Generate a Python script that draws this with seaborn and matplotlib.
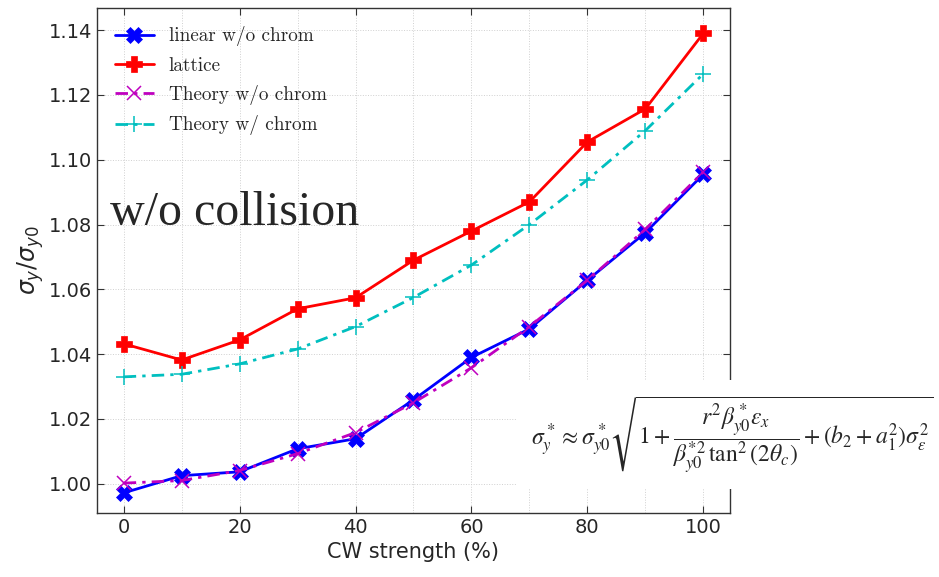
#!/usr/bin/env python3

import seaborn as sns
import matplotlib.pyplot as plt
import pandas as pd
from matplotlib.ticker import MultipleLocator

# CW strength (%)
cw_strength = [0, 10, 20, 30, 40, 50, 60, 70, 80, 90, 100]

# sigma_y / sigma_y0 per series
linear_wo_chrom = [0.9972, 1.0025, 1.0037, 1.0108, 1.0139, 1.0259, 1.0390, 1.0478, 1.0628, 1.0775, 1.0955]
lattice = [1.0432, 1.0382, 1.0444, 1.0540, 1.0574, 1.0690, 1.0780, 1.0870, 1.1055, 1.1157, 1.1390]
theory_wo_chrom = [1.0002, 1.0010, 1.0041, 1.0093, 1.0158, 1.0250, 1.0358, 1.0485, 1.0628, 1.0785, 1.0962]
theory_w_chrom = [1.0330, 1.0338, 1.0370, 1.0416, 1.0485, 1.0575, 1.0675, 1.0800, 1.0938, 1.1090, 1.1265]

series = [
    # label, values, color, marker, linestyle, markersize, mew
    ("linear w/o chrom", linear_wo_chrom, "#0000ff", "X", "-", 11, 0.5),
    ("lattice", lattice, "#ff0000", "P", "-", 11, 0.5),
    ("Theory w/o chrom", theory_wo_chrom, "#bf00bf", "x", "-.", 10, 1.1),
    ("Theory w/ chrom", theory_w_chrom, "#00bfbf", "+", "-.", 11, 1.1),
]

sns.set_style("ticks")
plt.rcParams['font.family'] = ['DejaVu Sans']

fig = plt.figure(figsize=(9.39, 5.77), dpi=100)
ax = fig.add_axes([0.1033, 0.111, 0.6741, 0.875])

for label, vals, color, marker, ls, ms, mew in series:
    df = pd.DataFrame({"cw": cw_strength, "ratio": vals})
    sns.lineplot(data=df, x="cw", y="ratio", ax=ax, label=label, color=color,
                 marker=marker, markersize=ms, mec=color, mfc=color, mew=mew,
                 linewidth=2, linestyle=ls)

for line in ax.lines:
    if line.get_linestyle() == "-.":
        line.set_dashes([4.5, 2.2, 1.2, 2.2])

ax.set_xlim(-4.6, 104.6)
ax.set_ylim(0.991, 1.1468)
ax.xaxis.set_major_locator(MultipleLocator(20))
ax.xaxis.set_minor_locator(MultipleLocator(10))
ax.yaxis.set_major_locator(MultipleLocator(0.02))
ax.yaxis.set_major_formatter(plt.FormatStrFormatter("%.2f"))
ax.tick_params(which="major", direction="in", top=True, right=True, length=5,
               labelsize=14, color="#333333")
ax.tick_params(which="minor", length=0)
ax.grid(True, which="both", linestyle=":", linewidth=0.7, color="#d0d0d0")
for sp in ax.spines.values():
    sp.set_color("#333333")
    sp.set_linewidth(1.0)

ax.set_xlabel("CW strength (%)", fontsize=15, labelpad=4)
ax.set_ylabel(r"$\sigma_y/\sigma_{y0}$", fontsize=17, labelpad=2)

leg = ax.legend(loc="upper left", frameon=False, prop={"family": "cmr10", "size": 13.8},
                labelspacing=0.54, handlelength=2.0, borderaxespad=0.55,
                bbox_to_anchor=(0.0, 1.0))

ax.text(0.02, 0.594, "w/o collision", transform=ax.transAxes, fontsize=34.5,
        family="Liberation Serif", va="center", ha="left")

fig.text(0.565, 0.247,
         r"$\sigma_y^* \approx \sigma_{y0}^* \sqrt{1 + \dfrac{r^2\beta_{y0}^*\epsilon_x}{\beta_{y0}^{*2}\,\tan^2(2\theta_c)} + (b_2+a_1^2)\sigma_\epsilon^2}$",
         fontsize=17, va="center", ha="left", math_fontfamily="stix",
         bbox=dict(facecolor="white", edgecolor="none", pad=10))

plt.savefig("out.png", dpi=100)
